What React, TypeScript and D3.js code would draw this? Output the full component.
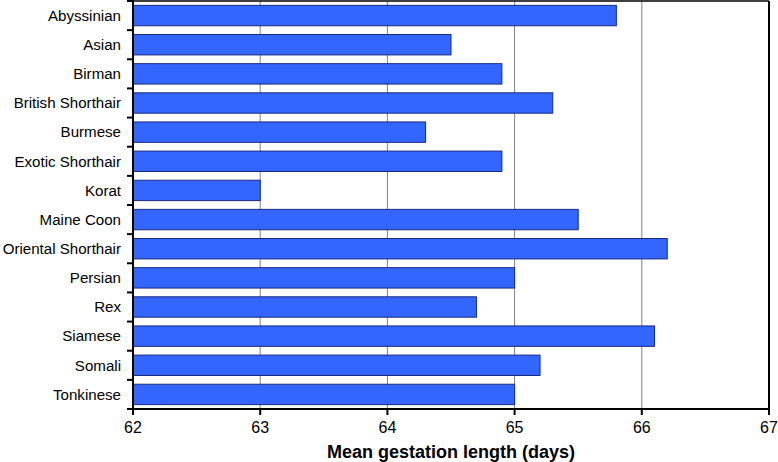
import React from "react";
import * as d3 from "d3";

const categories = [
  "Abyssinian", "Asian", "Birman", "British Shorthair", "Burmese", "Exotic Shorthair",
  "Korat", "Maine Coon ", "Oriental Shorthair", "Persian", "Rex", "Siamese", "Somali", "Tonkinese",
];
const values = [65.8, 64.5, 64.9, 65.3, 64.3, 64.9, 63.0, 65.5, 66.2, 65.0, 64.7, 66.1, 65.2, 65.0];
const xTicks = [62, 63, 64, 65, 66, 67];
const xTitle = "Mean gestation length (days)";

export default function App() {
  const W = 778, H = 462;
  const left = 133, right = 769, top = 1, bottom = 409;
  const x = d3.scaleLinear().domain([62, 67]).range([left, right]);
  const y = d3.scaleBand<string>().domain(categories).range([top, bottom]).paddingInner(0.3).paddingOuter(0.15);
  const step = y.step();
  const font = "'Liberation Sans', Arial, sans-serif";
  return (
    <svg width={W} height={H} style={{ position: "absolute", left: 0, top: 0 }} fontFamily={font}>
      <rect x={0} y={0} width={W} height={H} fill="#fff" />
      {xTicks.slice(1, -1).map((t) => (
        <line key={"g" + t} x1={x(t)} x2={x(t)} y1={top} y2={bottom} stroke="#808080" strokeWidth={1} />
      ))}
      {categories.map((c, i) => (
        <rect key={c} x={x(62)} y={y(c)!} width={x(values[i]) - x(62)} height={y.bandwidth()}
          fill="#3366FF" stroke="#1a2a80" strokeWidth={1} />
      ))}
      {/* frame */}
      <line x1={left} x2={right} y1={top} y2={top} stroke="#000" strokeWidth={1.5} />
      <line x1={right} x2={right} y1={top} y2={bottom} stroke="#000" strokeWidth={2} />
      <line x1={left} x2={left} y1={0} y2={bottom + 1} stroke="#000" strokeWidth={2} />
      <line x1={left - 1} x2={right + 1} y1={bottom} y2={bottom} stroke="#000" strokeWidth={2} />
      {/* y ticks at band boundaries */}
      {d3.range(categories.length + 1).map((i) => (
        <line key={"yt" + i} x1={left - 6} x2={left} y1={top + i * step} y2={top + i * step} stroke="#000" strokeWidth={2} />
      ))}
      {categories.map((c) => (
        <text key={"l" + c} x={121} y={y(c)! + y.bandwidth() / 2} dy="0.35em" textAnchor="end" fontSize={15.1} fill="#000">
          {c}
        </text>
      ))}
      {xTicks.map((t) => (
        <g key={"xt" + t}>
          <line x1={x(t)} x2={x(t)} y1={bottom} y2={bottom + 6} stroke="#000" strokeWidth={2} />
          <text x={x(t)} y={433} textAnchor="middle" fontSize={16} fill="#000">{t}</text>
        </g>
      ))}
      <text x={451} y={458} textAnchor="middle" fontSize={18} fontWeight="bold" fill="#000">{xTitle}</text>
    </svg>
  );
}
